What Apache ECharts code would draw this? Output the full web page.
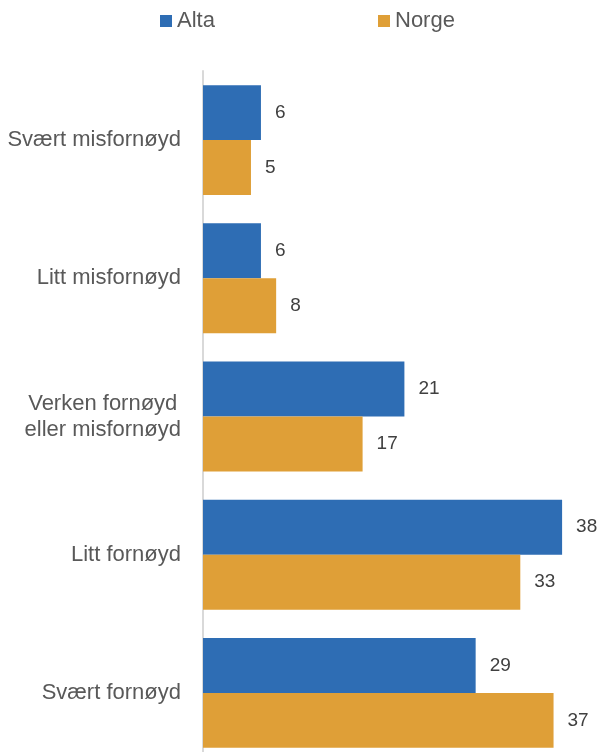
<!DOCTYPE html>
<html>
<head>
<meta charset="utf-8">
<script src="https://cdn.jsdelivr.net/npm/echarts@6/dist/echarts.min.js"></script>
<style>
html,body{margin:0;padding:0;background:#fff;overflow:hidden;}
#chart{width:600px;height:762px;}
</style>
</head>
<body>
<div id="chart"></div>
<script>
var categories = ['Svært misfornøyd', 'Litt misfornøyd', 'Verken fornøyd\neller misfornøyd', 'Litt fornøyd', 'Svært fornøyd'];
var seriesNames = ['Alta', 'Norge'];
var altaValues = [6.1, 6.1, 21.2, 37.8, 28.7];
var norgeValues = [5.05, 7.7, 16.8, 33.4, 36.9];

var FONT = 'Liberation Sans';
var chart = echarts.init(document.getElementById('chart'), null, {renderer: 'canvas'});

function labelCfg() {
  return {
    show: true,
    position: 'right',
    distance: 14,
    color: '#404040',
    fontFamily: FONT,
    fontSize: 19,
    formatter: function (p) { return Math.round(p.value); }
  };
}

function legendCfg(name, left) {
  return {data: [name], left: left, top: 10, padding: 0, icon: 'rect', itemWidth: 12, itemHeight: 12,
          textStyle: {color: '#595959', fontFamily: FONT, fontSize: 22}};
}

chart.setOption({
  animation: false,
  backgroundColor: '#ffffff',
  legend: [legendCfg(seriesNames[0], 160), legendCfg(seriesNames[1], 378)],
  grid: {left: 203, right: 17, top: 71, bottom: 0, containLabel: false},
  xAxis: {
    type: 'value', min: 0, max: 40,
    show: false
  },
  yAxis: {
    type: 'category',
    data: categories,
    inverse: true,
    axisLine: {show: true, lineStyle: {color: '#D9D9D9', width: 2}},
    axisTick: {show: false},
    splitLine: {show: false},
    axisLabel: {
      margin: 22,
      color: '#595959',
      fontFamily: FONT,
      fontSize: 22,
      lineHeight: 26,
      formatter: function (v) {
        return v.split('\n').map(function (s) { return '{c|' + s + '}'; }).join('\n');
      },
      rich: {c: {align: 'center', color: '#595959', fontFamily: FONT, fontSize: 22, lineHeight: 26}}
    }
  },
  series: [
    {name: seriesNames[0], type: 'bar', data: altaValues, barGap: '0%', barCategoryGap: '20.5%',
     itemStyle: {color: '#2E6DB4'}, label: labelCfg()},
    {name: seriesNames[1], type: 'bar', data: norgeValues, barGap: '0%', barCategoryGap: '20.5%',
     itemStyle: {color: '#DF9F37'}, label: labelCfg()}
  ]
});
</script>
</body>
</html>
